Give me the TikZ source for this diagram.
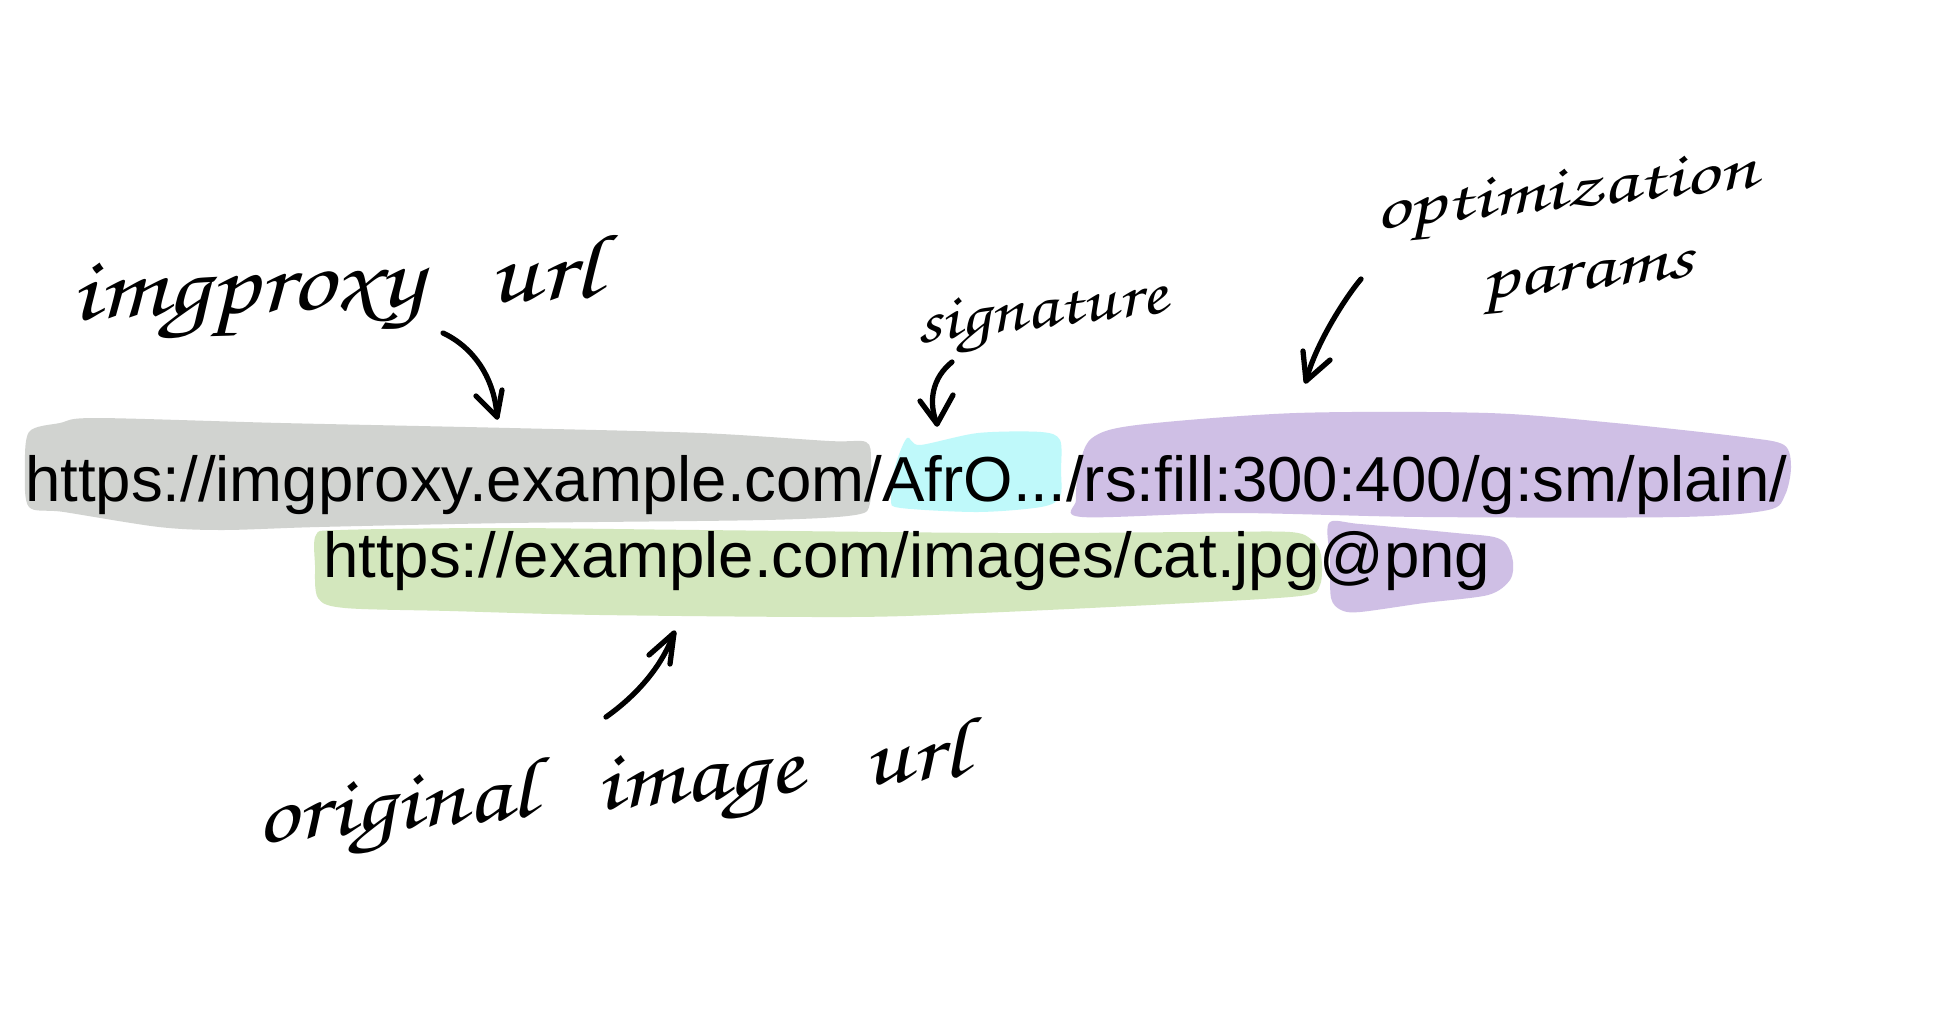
\documentclass[tikz,border=0pt]{standalone}
\usepackage{fontspec}
\setmainfont{Liberation Sans}[Ligatures=CommonOff]
\newfontfamily\handfont{texgyrechorus-mediumitalic}[Extension=.otf]
\definecolor{hlgray}{HTML}{D1D3D0}
\definecolor{hlcyan}{HTML}{BFF9FA}
\definecolor{hlpurple}{HTML}{CFBFE5}
\definecolor{hlgreen}{HTML}{D3E7BD}
\newcommand{\handtext}[3][0.82]{\resizebox{#2}{!}{\scalebox{1}[#1]{#3}}}
\begin{document}
\begin{tikzpicture}[x=0.01cm,y=-0.01cm,line cap=round,line join=round,
  urltext/.style={inner sep=0pt,outer sep=0pt,font=\fontsize{18.08pt}{20pt}\selectfont,text=black},
  handlabel/.style={inner sep=0pt,outer sep=0pt,font=\handfont,text=black,anchor=base west},
  handline/.style={draw=black,line width=1.5pt,line cap=round,line join=round}]
\useasboundingbox (0,0) rectangle (1946,1024);
\fill[white] (0,0) rectangle (1946,1024);
% highlights
\fill[hlgray] plot[smooth cycle,tension=0.5] coordinates {(29,432) (60,423) (96,418) (281,423) (510,428) (701,433) (829,441) (866,442) (871,460) (870,503) (855,515) (765,520) (510,523) (319,527) (223,530) (159,527) (64,512) (29,507) (25,470)};
\fill[hlcyan] plot[smooth cycle,tension=0.5] coordinates {(907,438) (920,445) (978,433) (1041,432) (1060,440) (1061,470) (1060,497) (1041,507) (978,512) (901,508) (891,500) (895,467)};
\fill[hlpurple] plot[smooth cycle,tension=0.5] coordinates {(1092,438) (1137,425) (1296,413) (1488,413) (1615,423) (1743,437) (1784,445) (1791,467) (1785,495) (1768,510) (1679,517) (1424,517) (1233,513) (1082,517) (1076,500) (1079,467)};
\fill[hlgreen] plot[smooth cycle,tension=0.5] coordinates {(316,535) (340,530) (500,528) (700,530) (1000,533) (1200,532) (1290,532) (1312,540) (1321,555) (1320,585) (1300,596) (1170,604) (980,613) (850,617) (600,615) (450,611) (345,608) (318,598) (315,565)};
\fill[hlpurple] plot[smooth cycle,tension=0.5] coordinates {(1329,523) (1360,524) (1456,533) (1494,537) (1507,545) (1513,562) (1510,580) (1488,595) (1424,603) (1360,612) (1341,610) (1331,598) (1330,560)};
% url text
\node[urltext,anchor=base west] (url1) at (25,501) {https://imgproxy.example.com/AfrO.../rs:fill:300:400/g:sm/plain/};
\node[urltext,anchor=base west] (url2) at (323,577) {https://example.com/images/cat.jpg@png};
% handwritten labels
\node[handlabel,rotate=2.4] (limg) at (72,320) {\handtext{5.28cm}{imgproxy\hspace{0.6em}url}};
\node[handlabel,rotate=7] (lsig) at (918,343) {\handtext{2.52cm}{signature}};
\node[handlabel,rotate=6.2,anchor=center] (lopt) at (1570,234) {\handtext[0.74]{3.84cm}{\begin{tabular}{@{}c@{}}optimization\\[1pt]\hspace{0.3em}params\end{tabular}}};
\node[handlabel,rotate=5.4] (lorig) at (257,843) {\handtext{7.14cm}{original\hspace{0.6em}image\hspace{0.6em}url}};
% arrow end points
\coordinate (a1s) at (443,333); \coordinate (a1t) at (497,417);
\coordinate (a2s) at (952,362); \coordinate (a2t) at (937,424);
\coordinate (a3s) at (1361,279); \coordinate (a3t) at (1306,381);
\coordinate (a4s) at (606,717); \coordinate (a4t) at (674,633);
% arrows
\draw[handline] (a1s) .. controls (475,348) and (495,380) .. (a1t);
\draw[handline] (476,396) -- (a1t) -- (502,390);
\draw[handline] (a2s) .. controls (932,378) and (928,402) .. (a2t);
\draw[handline] (920,401) -- (a2t) -- (953,395);
\draw[handline] (a3s) .. controls (1345,298) and (1315,345) .. (a3t);
\draw[handline] (1303,351) -- (a3t) -- (1330,360);
\draw[handline] (a4s) .. controls (630,700) and (660,672) .. (a4t);
\draw[handline] (649,655) -- (a4t) -- (670,664);
\end{tikzpicture}
\end{document}
